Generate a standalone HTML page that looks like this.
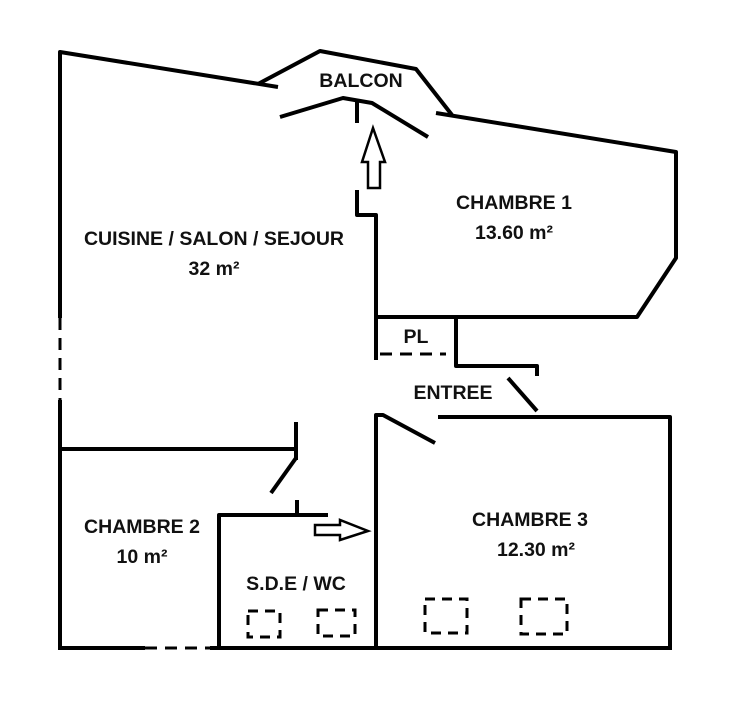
<!DOCTYPE html>
<html><head><style>body{margin:0;background:#fff}svg{display:block}text{font-family:"Liberation Sans",sans-serif;font-weight:bold;font-size:19.5px;fill:#111;text-anchor:middle}</style></head><body>
<svg width="745" height="720" viewBox="0 0 745 720">
<g stroke="#000" stroke-width="4" fill="none" stroke-linejoin="round" stroke-linecap="butt">
<polyline points="60,318 60,52 278,87"/>
<polyline points="258,84 320,51 416,69 452,115"/>
<polyline points="436,113 676,152 676,258 637,317 376,317"/>
<polyline points="280,117 343,98 372,103 428,137"/>
<line x1="357" y1="100" x2="357" y2="123"/>
<polyline points="357,190 357,215 376,215 376,360"/>
<polyline points="456,317 456,366 537,366 537,376"/>
<line x1="508" y1="378" x2="537" y2="411"/>
<polyline points="438,417 670,417 670,648"/>
<polyline points="376,648 376,415 383,415 435,443"/>
<line x1="60" y1="400" x2="60" y2="648"/>
<polyline points="60,449 296,449"/>
<line x1="296" y1="422" x2="296" y2="460"/>
<line x1="296" y1="458" x2="271" y2="493"/>
<polyline points="219,648 219,515 328,515"/>
<line x1="297" y1="500" x2="297" y2="515"/>
<line x1="58" y1="648" x2="145" y2="648"/>
<line x1="210" y1="648" x2="672" y2="648"/>
</g>
<g stroke="#000" stroke-width="3" fill="none" stroke-dasharray="12,8">
<line x1="60" y1="318" x2="60" y2="400"/>
<line x1="145" y1="648" x2="210" y2="648"/>
<line x1="380" y1="354" x2="446" y2="354"/>
</g>
<g stroke="#000" stroke-width="3" fill="none" stroke-dasharray="10,7">
<rect x="248" y="611" width="32" height="26"/>
<rect x="318" y="610" width="37" height="26"/>
<rect x="425" y="599" width="42" height="34"/>
<rect x="521" y="599" width="46" height="35"/>
</g>
<polygon points="368,188 380,188 380,162 385,162 373,128 362,162 368,162" fill="#fff" stroke="#000" stroke-width="2.5"/>
<polygon points="315,525 340,525 340,520 368,531 340,540 340,535 315,535" fill="#fff" stroke="#000" stroke-width="2.5"/>
<text x="361" y="87">BALCON</text>
<text x="514" y="209">CHAMBRE 1</text>
<text x="514" y="239">13.60 m²</text>
<text x="214" y="245">CUISINE / SALON / SEJOUR</text>
<text x="214" y="275">32 m²</text>
<text x="416" y="343">PL</text>
<text x="453" y="399">ENTREE</text>
<text x="142" y="533">CHAMBRE 2</text>
<text x="142" y="563">10 m²</text>
<text x="530" y="526">CHAMBRE 3</text>
<text x="536" y="556">12.30 m²</text>
<text x="296" y="590">S.D.E / WC</text>
</svg>
</body></html>
